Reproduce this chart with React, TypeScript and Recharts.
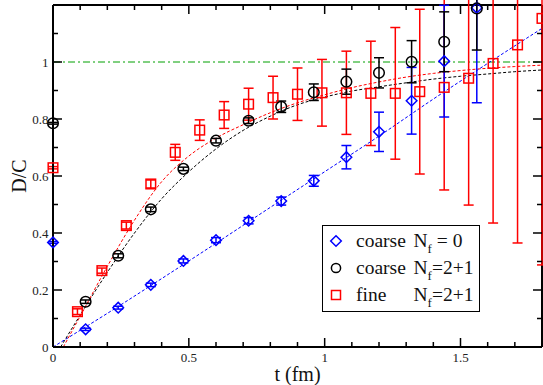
import React from 'react'
import {
  ComposedChart,
  XAxis,
  YAxis,
  Scatter,
  ErrorBar,
  Line,
  ReferenceLine,
} from 'recharts'

// coarse lattice, quenched (Nf = 0) and dynamical (Nf = 2+1)
const coarseT = [0, 0.12, 0.24, 0.36, 0.48, 0.6, 0.72, 0.84, 0.96, 1.08, 1.2, 1.32, 1.44, 1.56]
const quenchedRatio = [0.367, 0.062, 0.138, 0.218, 0.302, 0.375, 0.443, 0.512, 0.583, 0.666, 0.755, 0.864, 1.003, 1.19]
const quenchedErr = [0.003, 0.004, 0.005, 0.006, 0.007, 0.009, 0.011, 0.014, 0.019, 0.041, 0.069, 0.117, 0.196, 0.333]
const dynamicalRatio = [0.785, 0.159, 0.32, 0.483, 0.625, 0.724, 0.794, 0.843, 0.894, 0.931, 0.962, 1.001, 1.071, 1.188]
const dynamicalErr = [0.003, 0.006, 0.007, 0.008, 0.006, 0.008, 0.01, 0.02, 0.029, 0.044, 0.053, 0.074, 0.105, 0.146]

// fine lattice, Nf = 2+1
const fineT = [0, 0.09, 0.18, 0.27, 0.36, 0.45, 0.54, 0.63, 0.72, 0.81, 0.9, 0.99, 1.08, 1.17, 1.26, 1.35, 1.44, 1.53, 1.62, 1.71, 1.8]
const fineRatio = [0.629, 0.124, 0.268, 0.426, 0.572, 0.683, 0.761, 0.814, 0.852, 0.875, 0.887, 0.892, 0.892, 0.89, 0.89, 0.896, 0.911, 0.943, 0.995, 1.06, 1.153]
const fineErr = [0.004, 0.01, 0.009, 0.012, 0.014, 0.028, 0.036, 0.047, 0.056, 0.075, 0.092, 0.117, 0.146, 0.183, 0.231, 0.289, 0.36, 0.445, 0.56, 0.695, 0.865]

// fit curves
const quenchedFitT = [0, 0.2, 0.4, 0.6, 0.8, 1.0, 1.2, 1.4, 1.6, 1.8]
const quenchedFit = [0, 0.118, 0.24, 0.364, 0.49, 0.615, 0.74, 0.87, 0.995, 1.118]
const dynamicalFitT = [0.028, 0.1, 0.2, 0.3, 0.4, 0.5, 0.6, 0.7, 0.8, 0.9, 1.0, 1.1, 1.2, 1.3, 1.4, 1.5, 1.6, 1.7, 1.8]
const dynamicalFit = [0, 0.112, 0.262, 0.4, 0.52, 0.615, 0.695, 0.76, 0.81, 0.85, 0.877, 0.898, 0.913, 0.927, 0.94, 0.95, 0.958, 0.966, 0.972]
const fineFitT = [0.038, 0.1, 0.2, 0.3, 0.4, 0.5, 0.6, 0.7, 0.8, 0.9, 1.0, 1.1, 1.2, 1.3, 1.4, 1.5, 1.6, 1.7, 1.8]
const fineFit = [0, 0.108, 0.283, 0.445, 0.58, 0.67, 0.733, 0.78, 0.822, 0.857, 0.885, 0.91, 0.93, 0.947, 0.96, 0.97, 0.978, 0.984, 0.989]

const xTicks = [0, 0.1, 0.2, 0.3, 0.4, 0.5, 0.6, 0.7, 0.8, 0.9, 1, 1.1, 1.2, 1.3, 1.4, 1.5, 1.6, 1.7]
const yTicks = [0, 0.1, 0.2, 0.3, 0.4, 0.5, 0.6, 0.7, 0.8, 0.9, 1, 1.1]

const legendNames = ['coarse', 'coarse', 'fine']
const legendFlavours = [' = 0', '=2+1', '=2+1']

const BLUE = '#0000ff'
const RED = '#ff0000'
const BLACK = '#000000'
const GREEN = '#00a000'
const SERIF = '"Liberation Serif", "Times New Roman", serif'

const PLOT = { left: 53, right: 542, top: 5, bottom: 347 }

const zip = (t: number[], y: number[], e?: number[]) =>
  t.map((v, i) => ({ t: v, y: y[i], err: e ? e[i] : 0 }))

const quenchedData = zip(coarseT, quenchedRatio, quenchedErr)
const dynamicalData = zip(coarseT, dynamicalRatio, dynamicalErr)
const fineData = zip(fineT, fineRatio, fineErr)

function XTick({ x, payload }: any) {
  const v = payload.value
  const major = Math.abs(v * 2 - Math.round(v * 2)) < 1e-6
  const len = major ? 9 : 5
  return (
    <g>
      <line x1={x} x2={x} y1={PLOT.bottom} y2={PLOT.bottom - len} stroke={BLACK} strokeWidth={1.5} />
      <line x1={x} x2={x} y1={PLOT.top} y2={PLOT.top + len} stroke={BLACK} strokeWidth={1.5} />
      {major && (
        <text x={x} y={362} textAnchor="middle" fontFamily={SERIF} fontSize={13} fill="#222">
          {String(v)}
        </text>
      )}
    </g>
  )
}

function YTick({ y, payload }: any) {
  const v = payload.value
  const major = Math.abs(v * 5 - Math.round(v * 5)) < 1e-6
  const len = major ? 9 : 5
  return (
    <g>
      <line x1={PLOT.left} x2={PLOT.left + len} y1={y} y2={y} stroke={BLACK} strokeWidth={1.5} />
      <line x1={PLOT.right} x2={PLOT.right - len} y1={y} y2={y} stroke={BLACK} strokeWidth={1.5} />
      {major && (
        <text x={48.5} y={y + 4.5} textAnchor="end" fontFamily={SERIF} fontSize={13} fill="#222">
          {String(v)}
        </text>
      )}
    </g>
  )
}

function YTitle() {
  const cx = 19
  const cy = (PLOT.top + PLOT.bottom) / 2
  return (
    <text x={cx} y={cy} transform={`rotate(-90 ${cx} ${cy})`} textAnchor="middle" dominantBaseline="central" fontFamily={SERIF} fontSize={20} fill="#111">
      D/C
    </text>
  )
}

function XTitle() {
  const cx = (PLOT.left + PLOT.right) / 2
  return (
    <text x={cx} y={381} textAnchor="middle" fontFamily={SERIF} fontSize={20} fill="#111">
      t (fm)
    </text>
  )
}

const diamondPath = (cx: number, cy: number, r: number) =>
  `M${cx},${cy - r}L${cx + r},${cy}L${cx},${cy + r}L${cx - r},${cy}Z`

const Diamond = (p: any) => (
  <path d={diamondPath(p.cx, p.cy, 5.3)} fill="none" stroke={BLUE} strokeWidth={1.5} />
)
const Ring = (p: any) => <circle cx={p.cx} cy={p.cy} r={5.3} fill="none" stroke={BLACK} strokeWidth={1.5} />
const Box = (p: any) => (
  <rect x={p.cx - 4.8} y={p.cy - 4.8} width={9.6} height={9.6} fill="none" stroke={RED} strokeWidth={1.5} />
)

const legendMarkers = [
  <path key="d" d={diamondPath(7, 7, 5.3)} fill="none" stroke={BLUE} strokeWidth={1.5} />,
  <circle key="c" cx={7} cy={7} r={4.6} fill="none" stroke={BLACK} strokeWidth={1.5} />,
  <rect key="r" x={2.5} y={2.5} width={9} height={9} fill="none" stroke={RED} strokeWidth={1.5} />,
]

function LegendBox() {
  return (
    <div
      style={{
        position: 'absolute',
        left: 322,
        top: 225,
        width: 156,
        height: 85,
        border: '1.5px solid #000',
        background: '#fff',
        fontFamily: SERIF,
        fontSize: 19.5,
        color: '#111',
      }}
    >
      {legendNames.map((name, i) => (
        <div key={i} style={{ position: 'absolute', left: 0, top: 15.2 + i * 26.7 - 13, height: 26, width: '100%' }}>
          <svg style={{ position: 'absolute', left: 6.2, top: 6 }} width={14} height={14}>
            {legendMarkers[i]}
          </svg>
          <span style={{ position: 'absolute', left: 33, lineHeight: '26px', whiteSpace: 'pre' }}>{name}</span>
          <span style={{ position: 'absolute', left: 90.5, lineHeight: '26px', whiteSpace: 'pre' }}>
            N<span style={{ fontSize: 13, position: 'relative', top: 6 }}>f</span>
            {legendFlavours[i]}
          </span>
        </div>
      ))}
    </div>
  )
}

export default function App() {
  return (
    <div style={{ position: 'absolute', left: 0, top: 0, width: 543, height: 385, background: '#fff' }}>
      <style>{'.recharts-wrapper svg g{clip-path:none !important}'}</style>
      <ComposedChart width={543} height={385} margin={{ top: 5, right: 1, bottom: 0, left: 0 }}>
        <XAxis
          type="number"
          dataKey="t"
          domain={[0, 1.8]}
          allowDataOverflow
          ticks={xTicks}
          interval={0}
          height={38}
          tickSize={0}
          tickLine={false}
          tick={<XTick />}
          axisLine={{ stroke: BLACK, strokeWidth: 2 }}
          label={<XTitle />}
        />
        <YAxis
          type="number"
          dataKey="y"
          domain={[0, 1.2]}
          allowDataOverflow
          ticks={yTicks}
          interval={0}
          width={53}
          tickSize={0}
          tickLine={false}
          tick={<YTick />}
          axisLine={{ stroke: BLACK, strokeWidth: 2 }}
          label={<YTitle />}
        />
        <ReferenceLine y={1.2} stroke={BLACK} strokeWidth={2} />
        <ReferenceLine x={1.8} stroke={BLACK} strokeWidth={2} />
        <ReferenceLine y={1} stroke={GREEN} strokeWidth={1} strokeDasharray="7 3 2 3" />

        <Line data={zip(quenchedFitT, quenchedFit)} dataKey="y" type="monotone" stroke={BLUE} strokeWidth={1} strokeDasharray="3 2" dot={false} activeDot={false} isAnimationActive={false} />
        <Line data={zip(dynamicalFitT, dynamicalFit)} dataKey="y" type="monotone" stroke={BLACK} strokeWidth={1} strokeDasharray="3 2" dot={false} activeDot={false} isAnimationActive={false} />
        <Line data={zip(fineFitT, fineFit)} dataKey="y" type="monotone" stroke={RED} strokeWidth={1} strokeDasharray="3 2" dot={false} activeDot={false} isAnimationActive={false} />

        <Scatter data={fineData} shape={Box} isAnimationActive={false}>
          <ErrorBar dataKey="err" direction="y" width={5} stroke={RED} strokeWidth={1.5} />
        </Scatter>
        <Scatter data={quenchedData} shape={Diamond} isAnimationActive={false}>
          <ErrorBar dataKey="err" direction="y" width={5} stroke={BLUE} strokeWidth={1.5} />
        </Scatter>
        <Scatter data={dynamicalData} shape={Ring} isAnimationActive={false}>
          <ErrorBar dataKey="err" direction="y" width={5} stroke={BLACK} strokeWidth={1.5} />
        </Scatter>
      </ComposedChart>
      <LegendBox />
    </div>
  )
}
